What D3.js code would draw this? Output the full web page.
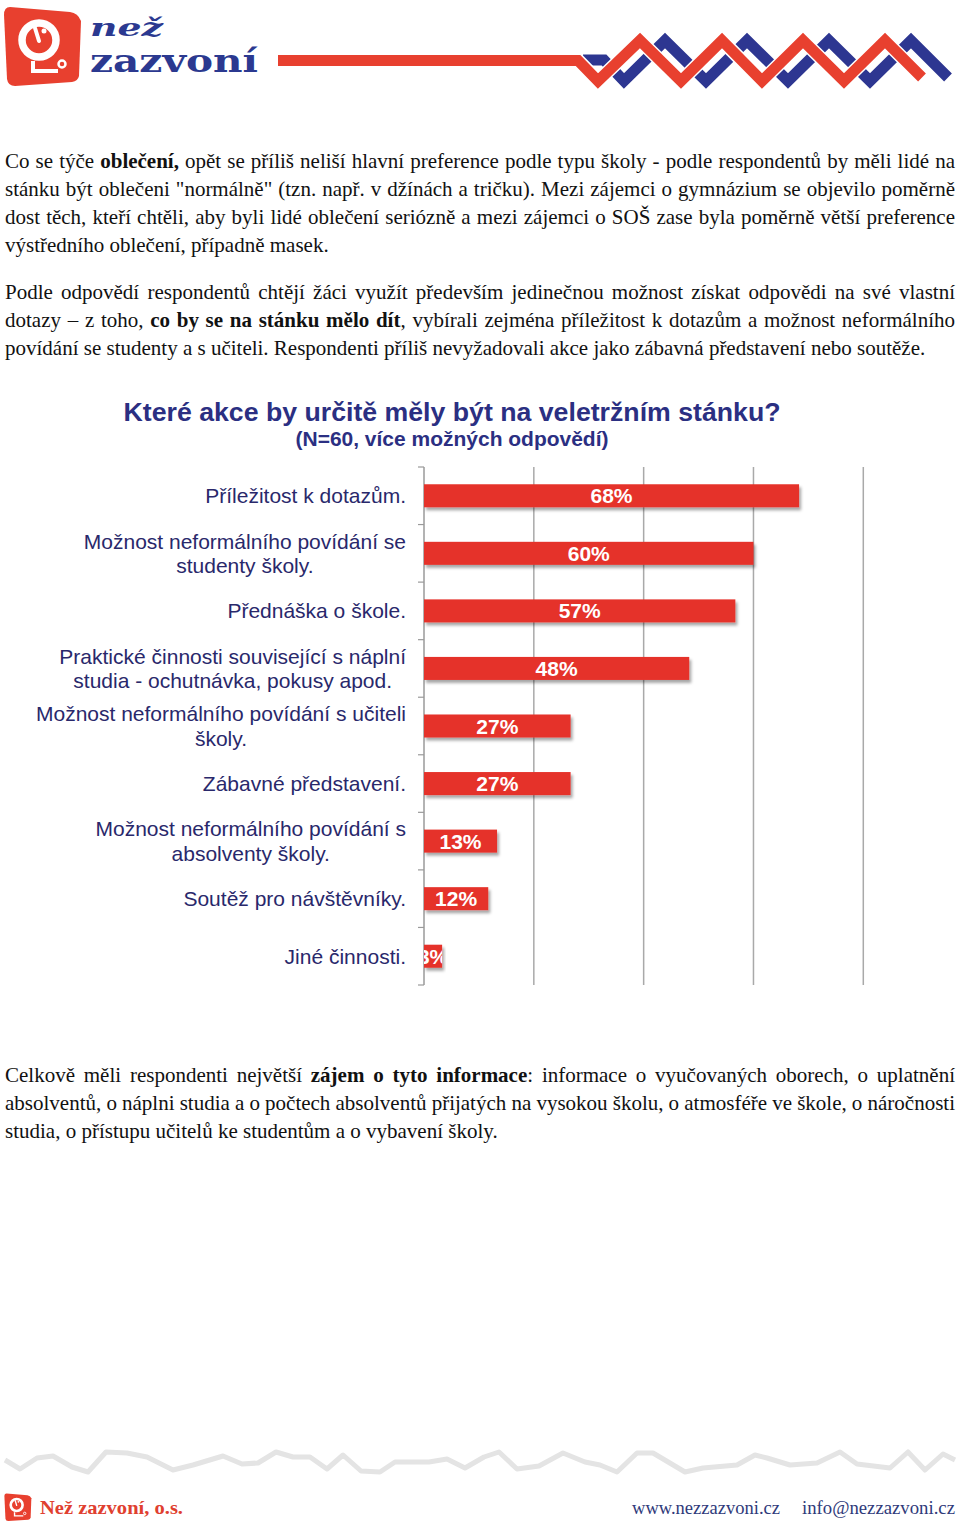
<!DOCTYPE html>
<html><head><meta charset="utf-8">
<script src="https://cdn.jsdelivr.net/npm/d3@7"></script>
<style>body{margin:0;background:#fff}svg{display:block}</style>
</head><body>
<svg id="page" width="960" height="1524"></svg>
<script>
// ---------- DATA ----------
const categories = [
  "Příležitost k dotazům.",
  "Možnost neformálního povídání se\nstudenty školy.",
  "Přednáška o škole.",
  "Praktické činnosti související s náplní\nstudia - ochutnávka, pokusy apod.",
  "Možnost neformálního povídání s učiteli\nškoly.",
  "Zábavné představení.",
  "Možnost neformálního povídání s\nabsolventy školy.",
  "Soutěž pro návštěvníky.",
  "Jiné činnosti."
];
const values = [68.3, 60, 56.7, 48.3, 26.7, 26.7, 13.3, 11.7, 3.3];
const valueLabels = ["68%", "60%", "57%", "48%", "27%", "27%", "13%", "12%", "3%"];
const gridTicks = [20, 40, 60, 80];
const chartTitle = "Které akce by určitě měly být na veletržním stánku?";
const chartSubtitle = "(N=60, více možných odpovědí)";

const paragraph1 = [
  "Co se týče **oblečení,** opět se příliš neliší hlavní preference podle typu školy - podle respondentů by měli lidé na",
  "stánku být oblečeni \"normálně\" (tzn. např. v džínách a tričku). Mezi zájemci o gymnázium se objevilo poměrně",
  "dost těch, kteří chtěli, aby byli lidé oblečení seriózně a mezi zájemci o SOŠ zase byla poměrně větší preference",
  "výstředního oblečení, případně masek."
];
const paragraph2 = [
  "Podle odpovědí respondentů chtějí žáci využít především jedinečnou možnost získat odpovědi na své vlastní",
  "dotazy – z toho, **co by se na stánku mělo dít**, vybírali zejména příležitost k dotazům a možnost neformálního",
  "povídání se studenty a s učiteli. Respondenti příliš nevyžadovali akce jako zábavná představení nebo soutěže."
];
const paragraph3 = [
  "Celkově měli respondenti největší **zájem o tyto informace**: informace o vyučovaných oborech, o uplatnění",
  "absolventů, o náplni studia a o počtech absolventů přijatých na vysokou školu, o atmosféře ve škole, o náročnosti",
  "studia, o přístupu učitelů ke studentům a o vybavení školy."
];

// ---------- SETUP ----------
const svg = d3.select("#page");
const RED = "#e5322a", NAVY = "#2b2f82", LABEL = "#29286b";
const SANS = "'Liberation Sans', Arial, Helvetica, sans-serif";
const SERIF = "'Liberation Serif', 'Times New Roman', serif";

const defs = svg.append("defs");
const shadow = defs.append("filter").attr("id", "shadow").attr("x", "-10%").attr("y", "-30%").attr("width", "130%").attr("height", "180%");
shadow.append("feDropShadow").attr("dx", 2).attr("dy", 3).attr("stdDeviation", 1.8)
  .attr("flood-color", "#000").attr("flood-opacity", 0.35);

// ---------- HEADER ----------
function drawLogo(g) {
  g.append("path")
    .attr("d", "M10,7 L70,12 Q78,13 81,21 L79,76 Q78,81 72,82 L15,86 Q8,86 7,79 L4,15 Q4,7 10,7 Z")
    .attr("fill", "#e8402f");
  g.append("circle").attr("cx", 39).attr("cy", 40).attr("r", 17).attr("fill", "none")
    .attr("stroke", "#fff").attr("stroke-width", 7.5);
  g.append("path").attr("d", "M39,41 L35,28").attr("stroke", "#fff").attr("stroke-width", 4).attr("stroke-linecap", "round");
  g.append("circle").attr("cx", 44).attr("cy", 31).attr("r", 2.5).attr("fill", "#fff");
  g.append("path").attr("d", "M33,61 L33,71 L58,71").attr("fill", "none").attr("stroke", "#fff").attr("stroke-width", 4);
  g.append("circle").attr("cx", 62).attr("cy", 64).attr("r", 3.5).attr("fill", "none").attr("stroke", "#fff").attr("stroke-width", 2.5);
}
drawLogo(svg.append("g"));
svg.append("text").attr("x", 90).attr("y", 36).attr("font-family", "'DejaVu Serif', serif")
  .attr("font-weight", "bold").attr("font-style", "italic").attr("font-size", 25)
  .attr("textLength", 73).attr("lengthAdjust", "spacingAndGlyphs").attr("fill", "#2b3990").text("než");
svg.append("text").attr("x", 90).attr("y", 72).attr("font-family", "'DejaVu Serif', serif")
  .attr("font-weight", "bold").attr("font-size", 32)
  .attr("textLength", 168).attr("lengthAdjust", "spacingAndGlyphs").attr("fill", "#2b3990").text("zazvoní");

const line = d3.line();
const bluePts = [[583,60],[604,60],[624,81],[665,40.5],[706,81],[747,40.5],[788,81],[829,40.5],[870,81],[911,40.5],[948,77.5]];
const redPts = [[278,60.5],[578,60.5],[598,81],[640,40.5],[681,81],[722,40.5],[762,81],[803,40.5],[844,81],[885,40.5],[922,77.5]];
svg.append("path").attr("d", line(bluePts)).attr("fill", "none").attr("stroke", "#2d3691").attr("stroke-width", 11).attr("stroke-linejoin", "miter");
svg.append("path").attr("d", line(redPts.slice(1))).attr("fill", "none").attr("stroke", "#fff").attr("stroke-width", 14).attr("stroke-linejoin", "miter");
svg.append("path").attr("d", line(redPts)).attr("fill", "none").attr("stroke", "#e8402f").attr("stroke-width", 11).attr("stroke-linejoin", "miter");

// ---------- BODY TEXT ----------
function drawParagraph(lines, y0) {
  lines.forEach((str, i) => {
    const t = svg.append("text").attr("x", 5).attr("y", y0 + i * 28)
      .attr("font-family", SERIF).attr("font-size", 21).attr("fill", "#111").style("white-space", "pre");
    str.split("**").forEach((s, k) => { if (s) t.append("tspan").attr("font-weight", k % 2 ? "bold" : "normal").text(s); });
    if (i < lines.length - 1) {
      const len = t.node().getComputedTextLength();
      const n = (str.replace(/\*\*/g, "").match(/ /g) || []).length;
      t.style("word-spacing", ((950 - len) / n) + "px");
    }
  });
}
drawParagraph(paragraph1, 168);
drawParagraph(paragraph2, 299);
drawParagraph(paragraph3, 1082);

// ---------- CHART ----------
svg.append("text").attr("x", 452).attr("y", 421).attr("text-anchor", "middle")
  .attr("font-family", SANS).attr("font-weight", "bold").attr("font-size", 26).attr("fill", NAVY)
  .attr("textLength", 657).attr("lengthAdjust", "spacingAndGlyphs").text(chartTitle);
svg.append("text").attr("x", 452).attr("y", 446).attr("text-anchor", "middle")
  .attr("font-family", SANS).attr("font-weight", "bold").attr("font-size", 20).attr("fill", NAVY)
  .attr("textLength", 313).attr("lengthAdjust", "spacingAndGlyphs").text(chartSubtitle);

const x = d3.scaleLinear().domain([0, 80]).range([424, 863.3]);
const y = d3.scaleBand().domain(categories).range([467, 985]).paddingInner(0.6).paddingOuter(0.3);
const chart = svg.append("g");

// gridlines
chart.selectAll("line.grid").data(gridTicks).join("line").attr("class", "grid")
  .attr("x1", d => x(d)).attr("x2", d => x(d)).attr("y1", 467).attr("y2", 985)
  .attr("stroke", "#a9a9a9").attr("stroke-width", 1.5);

// y axis line and ticks at band boundaries
chart.append("line").attr("x1", x(0)).attr("x2", x(0)).attr("y1", 467).attr("y2", 985)
  .attr("stroke", "#9a9a9a").attr("stroke-width", 1.5);
const boundaries = d3.range(categories.length + 1).map(i => y.range()[0] + i * y.step());
chart.selectAll("line.tick").data(boundaries).join("line").attr("class", "tick")
  .attr("x1", x(0) - 6).attr("x2", x(0)).attr("y1", d => d).attr("y2", d => d)
  .attr("stroke", "#9a9a9a").attr("stroke-width", 1.2);

// bars
chart.selectAll("rect.bar").data(values).join("rect").attr("class", "bar")
  .attr("x", x(0)).attr("y", (d, i) => y(categories[i]))
  .attr("width", d => x(d) - x(0)).attr("height", y.bandwidth())
  .attr("fill", RED).attr("filter", "url(#shadow)");

// clip paths for value labels
values.forEach((d, i) => {
  defs.append("clipPath").attr("id", "clip" + i).append("rect")
    .attr("x", x(0)).attr("y", y(categories[i]) - 2).attr("width", x(d) - x(0)).attr("height", y.bandwidth() + 4);
});
chart.selectAll("text.val").data(values).join("text").attr("class", "val")
  .attr("clip-path", (d, i) => "url(#clip" + i + ")")
  .attr("x", d => (x(0) + x(d)) / 2)
  .attr("y", (d, i) => y(categories[i]) + y.bandwidth() / 2 + 7.5)
  .attr("text-anchor", "middle").attr("font-family", SANS).attr("font-weight", "bold")
  .attr("font-size", 21).attr("fill", "#fff").text((d, i) => valueLabels[i]);

// category labels
categories.forEach(c => {
  const lines = c.split("\n");
  const cy = y(c) + y.bandwidth() / 2;
  const t = chart.append("text").attr("font-family", SANS).attr("font-size", 21).attr("fill", LABEL).attr("text-anchor", "middle");
  const spans = lines.map((l, k) => t.append("tspan").attr("y", cy + 7.5 - (lines.length - 1) * 12.25 + k * 24.5).text(l));
  const maxW = d3.max(spans, s => s.node().getComputedTextLength());
  spans.forEach(s => s.attr("x", 406 - maxW / 2));
});

// ---------- FOOTER ----------
const wave = [[5,1460],[20,1469],[37,1458],[53,1456],[72,1467],[88,1472],[106,1452],[127,1453],[147,1457],[173,1470],[193,1465],[223,1456],[242,1464],[258,1463],[276,1452],[293,1457],[310,1457],[327,1469],[343,1455],[361,1471],[380,1472],[395,1462],[429,1462],[447,1459],[465,1468],[484,1457],[499,1452],[517,1469],[539,1466],[563,1453],[585,1462],[600,1465],[617,1472],[637,1453],[653,1453],[685,1472],[703,1468],[737,1465],[755,1455],[767,1458],[790,1465],[817,1463],[840,1452],[857,1464],[890,1468],[908,1452],[925,1470],[943,1454],[955,1460]];
svg.append("path").attr("d", line(wave)).attr("fill", "none").attr("stroke", "#e4e4e4").attr("stroke-width", 5).attr("stroke-linejoin", "round");

drawLogo(svg.append("g").attr("transform", "translate(3,1491) scale(0.35)"));
svg.append("text").attr("x", 40).attr("y", 1514).attr("font-family", SERIF).attr("font-weight", "bold")
  .attr("font-size", 19).attr("textLength", 143).attr("lengthAdjust", "spacingAndGlyphs").attr("fill", "#e0402f").text("Než zazvoní, o.s.");
svg.append("text").attr("x", 632).attr("y", 1514).attr("font-family", SERIF)
  .attr("font-size", 19).attr("textLength", 148).attr("lengthAdjust", "spacingAndGlyphs").attr("fill", "#2f3a7a").text("www.nezzazvoni.cz");
svg.append("text").attr("x", 802).attr("y", 1514).attr("font-family", SERIF)
  .attr("font-size", 19).attr("textLength", 153).attr("lengthAdjust", "spacingAndGlyphs").attr("fill", "#2f3a7a").text("info@nezzazvoni.cz");
</script>
</body></html>
